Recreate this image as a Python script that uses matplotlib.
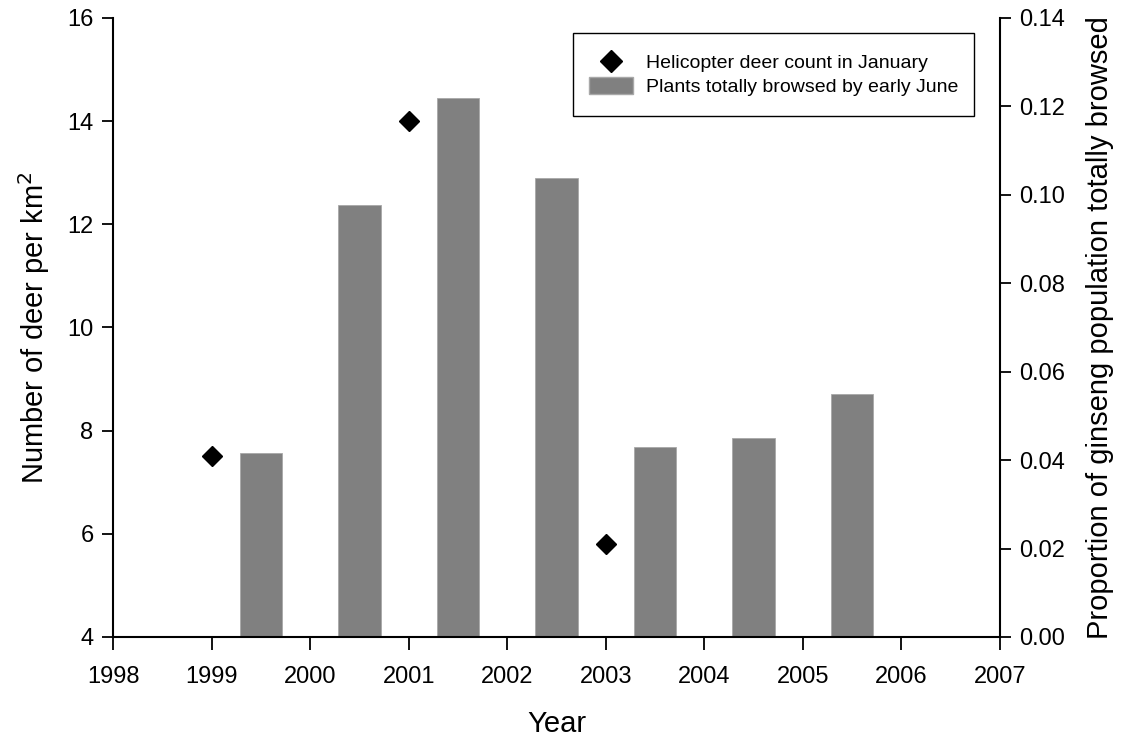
import matplotlib
matplotlib.use("Agg")
import matplotlib.pyplot as plt
from matplotlib.lines import Line2D
from matplotlib.patches import Patch, Rectangle

plt.rcParams['font.family'] = ['Liberation Sans', 'DejaVu Sans']

# Helicopter deer counts (deer per km^2)
count_years = [1999, 2001, 2003]
deer_density = [7.5, 14.0, 5.8]

# Proportion of ginseng plants totally browsed, plotted mid-year
browse_years = [1999.5, 2000.5, 2001.5, 2002.5, 2003.5, 2004.5, 2005.5]
browse_prop = [0.0415, 0.0976, 0.1219, 0.1038, 0.0430, 0.0450, 0.0550]

year_ticks = list(range(1998, 2008))
left_ticks = [4, 6, 8, 10, 12, 14, 16]
right_ticks = [0.00, 0.02, 0.04, 0.06, 0.08, 0.10, 0.12, 0.14]

fig = plt.figure(figsize=(11.28, 7.40), dpi=100)
ax = fig.add_axes([0.1002, 0.1392, 0.7863, 0.8365])
ax2 = ax.twinx()

# bars on the right axis, drawn beneath the diamonds
ax2.bar(browse_years, browse_prop, width=0.43, color='#808080',
        edgecolor='#a8a8a8', linewidth=0.6, zorder=1)
ax2.set_ylim(0, 0.14)
ax2.set_yticks(right_ticks)
ax2.set_yticklabels([f"{t:.2f}" for t in right_ticks])
ax2.set_ylabel("Proportion of ginseng population totally browsed",
               fontsize=21, labelpad=15)

ax.set_zorder(ax2.get_zorder() + 1)
ax.patch.set_visible(False)
ax.plot(count_years, deer_density, linestyle='none', marker='D',
        markersize=10, color='black', zorder=3)
ax.set_xlim(1998, 2007)
ax.set_ylim(4, 16)
ax.set_xticks(year_ticks)
ax.set_yticks(left_ticks)
ax.set_xlabel("Year", fontsize=21, labelpad=16)
ax.set_ylabel("Number of deer per km$^2$", fontsize=21, labelpad=11)

for a in (ax, ax2):
    a.spines['top'].set_visible(False)
    for s in a.spines.values():
        s.set_linewidth(1.5)
    a.tick_params(axis='both', labelsize=17, width=1.3, length=8,
                  direction='out')
    a.tick_params(axis='y', pad=6)
ax.tick_params(axis='x', length=9, pad=12)
ax2.spines['left'].set_visible(False)
ax2.spines['bottom'].set_visible(False)
ax.spines['right'].set_visible(False)

handles = [
    Line2D([], [], linestyle='none', marker='D', markersize=11, color='black'),
    Patch(facecolor='#808080', edgecolor='#a8a8a8'),
]
labels = ["Helicopter deer count in January", "Plants totally browsed by early June"]
leg = ax.legend(handles, labels, loc='upper right',
                bbox_to_anchor=(0.953, 0.943), fontsize=14,
                frameon=False, borderpad=0.0, handlelength=2.3,
                handleheight=0.95, handletextpad=0.65,
                labelspacing=0.25, borderaxespad=0)

# legend frame with wider vertical than horizontal padding
fig.canvas.draw()
bb = leg.get_window_extent()
pad_x, pad_y = 16, 20
frame = Rectangle((bb.x0 - pad_x, bb.y0 - pad_y),
                  bb.width + 2 * pad_x, bb.height + 2 * pad_y,
                  transform=None, facecolor='white', edgecolor='black',
                  linewidth=1.0, zorder=2.5)
ax.add_artist(frame)
leg.set_zorder(3)

fig.savefig("out.png", dpi=100)
